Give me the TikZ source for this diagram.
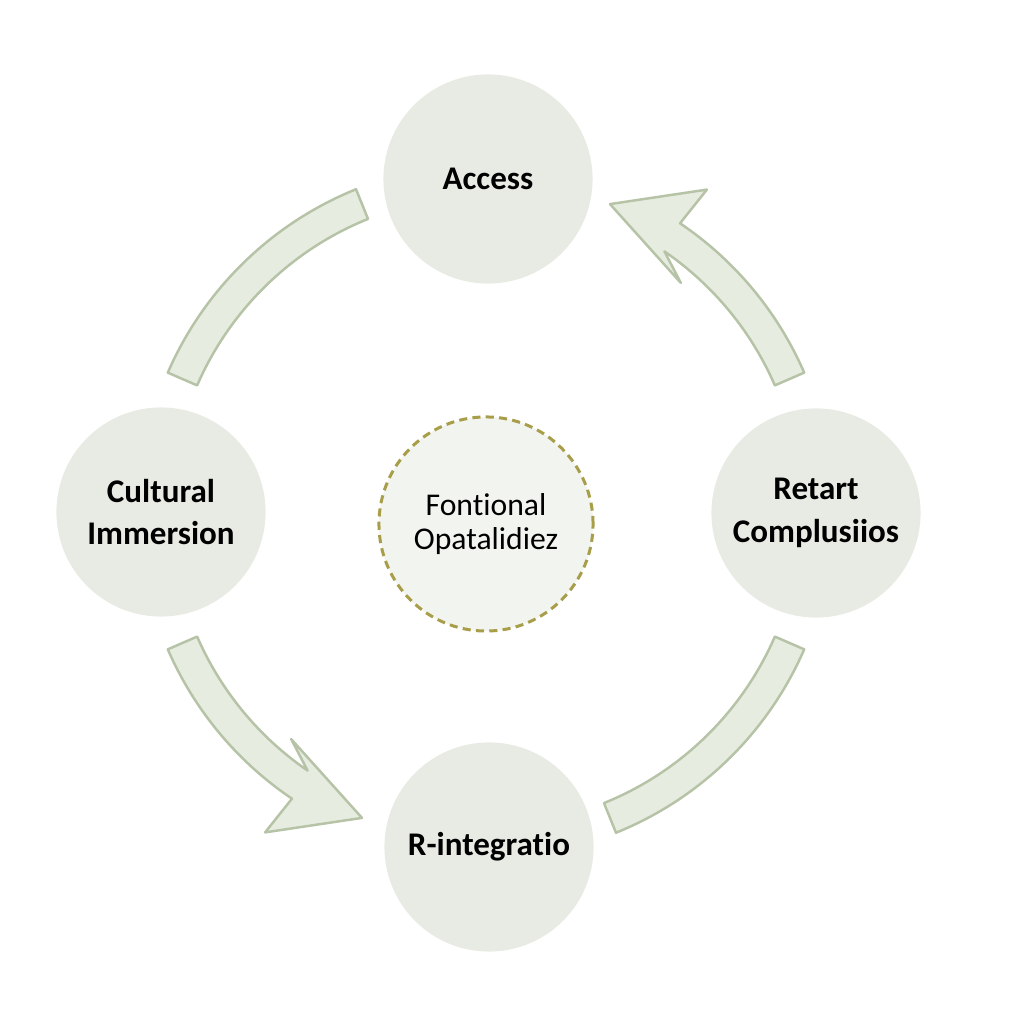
\documentclass[tikz,border=0pt]{standalone}
\usepackage{fontspec}
\setmainfont{Carlito}[Ligatures=NoCommon]
\usepackage{xcolor}
\usetikzlibrary{positioning}
\definecolor{stagefill}{HTML}{E8EBE4}
\definecolor{corefill}{HTML}{F2F4F0}
\definecolor{bandfill}{HTML}{E6ECDF}
\definecolor{bandline}{HTML}{B6C3A7}
\definecolor{olive}{HTML}{A89E4A}

\begin{document}
\begin{tikzpicture}[
  x=0.01cm, y=0.01cm,
  stage/.style={circle,fill=stagefill,minimum size=2.09cm,inner sep=0pt,align=center,
                font=\fontsize{9.4}{12.2}\selectfont\bfseries},
  core/.style={circle,fill=corefill,draw=olive,line width=0.85pt,dash pattern=on 2.3pt off 1.5pt,
               minimum size=2.14cm,inner sep=0pt,align=center,font=\fontsize{9}{9.6}\selectfont},
  band/.style={fill=bandfill,draw=bandline,line width=0.7pt,line join=round}
]
\fill[white] (0,0) rectangle (1024,1024);
\coordinate (hub) at (486,513);

\node[stage] (acc) at (488,845) {Access};
\node[stage] (cult) at (161,512) {Cultural\\Immersion};
\node[stage] (ret) at (816,511) {Retart\\Complusiios};
\node[stage] (reint) at (489,177) {R-integratio};
\node[core] (cen) at (486,500) {Fontional\\Opatalidiez};

% bands around the hub
\begin{scope}[shift={(hub)}]
\draw[band] (112:347) arc[start angle=112,end angle=156.5,radius=347]
  -- (156.5:315) arc[start angle=156.5,end angle=112,radius=315] -- cycle;
\draw[band] (-68:347) arc[start angle=-68,end angle=-23.5,radius=347]
  -- (-23.5:315) arc[start angle=-23.5,end angle=-68,radius=315] -- cycle;
\foreach \r in {0,180}{
  \draw[band,rotate=\r] (23.5:347) arc[start angle=23.5,end angle=56,radius=347]
    -- (55.5:390) -- (68:331) -- (49.5:300) -- (55.5:315)
    arc[start angle=55.5,end angle=23.5,radius=315] -- cycle;
}
\end{scope}
\end{tikzpicture}
\end{document}
